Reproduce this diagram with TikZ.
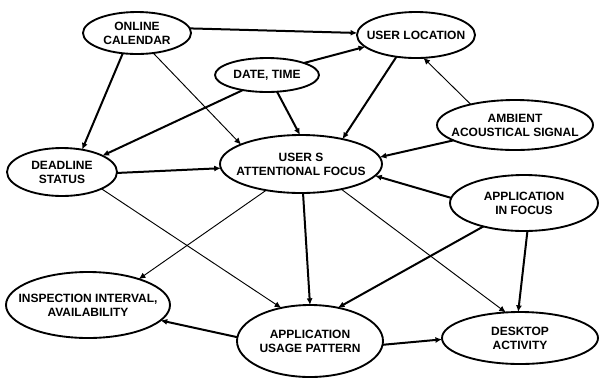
\documentclass[tikz,border=0pt]{standalone}
\usepackage{fontspec}
\setmainfont{Liberation Sans}
\usetikzlibrary{shapes.geometric,arrows.meta}

\tikzset{
  ev/.style 2 args={ellipse,draw,line width=1.4pt,inner sep=0pt,outer sep=0pt,minimum width=#1,minimum height=#2},
  lbl/.style={font=\fontsize{9}{10.5}\selectfont\bfseries,align=center,inner sep=0pt},
  strong/.style={line width=1.5pt,-{Latex[length=5pt,width=4.5pt]}},
  weak/.style={line width=0.7pt,-{Latex[length=5pt,width=4.5pt]}},
}

\begin{document}
\begin{tikzpicture}[x=0.75pt,y=0.75pt,yscale=-1,xscale=1]
\useasboundingbox (0,0) rectangle (600,380);

%Shape: Ellipse [id:cal]
\node [ev={81pt}{31.5pt},label={[lbl]center:{ONLINE\\CALENDAR}}] (cal) at (137,33) {};
%Shape: Ellipse [id:loc]
\node [ev={88.5pt}{34.5pt},label={[lbl]center:{USER LOCATION}}] (loc) at (416,35) {};
%Shape: Ellipse [id:date]
\node [ev={78pt}{25.5pt},label={[lbl]center:{DATE, TIME}}] (date) at (267,75) {};
%Shape: Ellipse [id:amb]
\node [ev={117pt}{37.5pt},label={[lbl]center:{AMBIENT\\ACOUSTICAL SIGNAL}}] (amb) at (515,125) {};
%Shape: Ellipse [id:dl]
\node [ev={82.5pt}{36pt},label={[lbl]center:{DEADLINE\\STATUS}}] (dl) at (62,172) {};
%Shape: Ellipse [id:foc]
\node [ev={121.5pt}{43.5pt},label={[lbl]center:{USER S\\ATTENTIONAL FOCUS}}] (foc) at (301,164) {};
%Shape: Ellipse [id:app]
\node [ev={111pt}{42pt},label={[lbl]center:{APPLICATION\\IN FOCUS}}] (app) at (524,203) {};
%Shape: Ellipse [id:insp]
\node [ev={123pt}{49.5pt},label={[lbl]center:{INSPECTION INTERVAL,\\AVAILABILITY}}] (insp) at (88,305) {};
%Shape: Ellipse [id:usage]
\node [ev={109.5pt}{54pt},label={[lbl]center:{APPLICATION\\USAGE PATTERN}}] (usage) at (310,341) {};
%Shape: Ellipse [id:desk]
\node [ev={117pt}{39pt},label={[lbl]center:{DESKTOP\\ACTIVITY}}] (desk) at (520,338) {};

%Straight Lines
\draw [strong] (cal.5) -- (loc.178);
\draw [strong] (cal.-125) -- (dl.48);
\draw [weak] (cal.-51) -- (foc.162);
\draw [strong] (date.18) -- (loc.193);
\draw [strong] (date.212) -- (dl.22);
\draw [strong] (date.-59) -- (foc.92);
\draw [strong] (loc.-132) -- (foc.31);
\draw [weak] (amb.155) -- (loc.-72);
\draw [strong] (amb.194) -- (foc.5);
\draw [strong] (dl.-1) -- (foc.183);
\draw [weak] (dl.-23) -- (usage.131);
\draw [strong] (app.176) -- (foc.-9);
\draw [strong] (app.-150) -- (usage.50);
\draw [strong] (app.-83) -- (desk.94);
\draw [weak] (foc.-143) -- (insp.27);
\draw [strong] (foc.-86) -- (usage.90);
\draw [weak] (foc.-32) -- (desk.119);
\draw [strong] (usage.177) -- (insp.-12);
\draw [strong] (usage.-3) -- (desk.181);

\end{tikzpicture}
\end{document}
